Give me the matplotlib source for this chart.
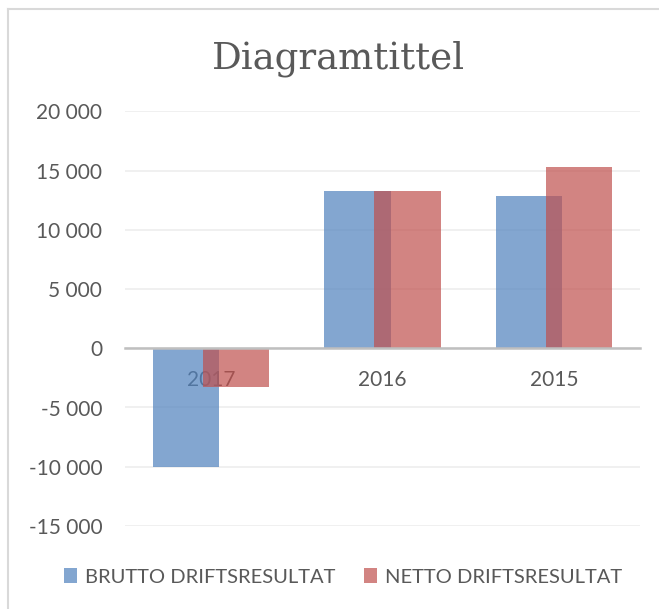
import matplotlib.pyplot as plt
import numpy as np
from matplotlib.lines import Line2D
from matplotlib.patches import Patch
from matplotlib.ticker import FuncFormatter

categories = ["2017", "2016", "2015"]
brutto = [-10000, 13300, 12860]
netto = [-3250, 13260, 15290]
series_names = ["BRUTTO DRIFTSRESULTAT", "NETTO DRIFTSRESULTAT"]

blue = "#4F81BD"
red = "#C0504D"
text_grey = "#595959"

plt.rcParams['font.family'] = ['Lato', 'DejaVu Sans']

W, H = 659, 609
fig = plt.figure(figsize=(W / 100, H / 100), dpi=100)

# plot area placed in pixel terms
left, right = 125.25, 639.75
top, bottom = 111.5, 525.9
ax = fig.add_axes([left / W, 1 - bottom / H, (right - left) / W, (bottom - top) / H])

x = np.arange(len(categories))
width = 0.39
offset = 0.146
ax.bar(x - offset, brutto, width, color=blue, alpha=0.7, linewidth=0, zorder=1)
ax.bar(x + offset, netto, width, color=red, alpha=0.7, linewidth=0, zorder=1.1)

ax.set_xlim(-0.5, len(categories) - 0.5)
ax.set_ylim(-15000, 20000)
ax.set_yticks(np.arange(-15000, 20001, 5000))
ax.yaxis.set_major_formatter(FuncFormatter(lambda v, p: f"{int(v):,}".replace(",", " ")))
ax.set_xticks(x)
ax.set_xticklabels(categories)

ax.grid(axis="y", color="#efefef", linewidth=1.3)
ax.set_axisbelow(True)
for s in ["top", "right", "left"]:
    ax.spines[s].set_visible(False)
ax.spines["bottom"].set_position(("data", 0))
ax.spines["bottom"].set_color("#bfbfbf")
ax.spines["bottom"].set_linewidth(1.8)
ax.spines["bottom"].set_zorder(3)
ax.tick_params(axis="both", length=0, labelsize=15, labelcolor=text_grey)
ax.tick_params(axis="y", pad=16.5)
ax.tick_params(axis="x", pad=15.5)

fig.text(338 / W, 1 - 68.3 / H, "Diagramtittel", ha="center", va="baseline",
         fontsize=26.7, color=text_grey, family="DejaVu Serif")

handles = [Patch(facecolor=blue, alpha=0.7), Patch(facecolor=red, alpha=0.7)]
fig.legend(handles, series_names, loc="center", ncol=2,
           bbox_to_anchor=(343 / W, 1 - 577 / H), frameon=False,
           fontsize=14.5, labelcolor=text_grey, handlelength=0.65, handleheight=0.7,
           handletextpad=0.4, columnspacing=1.4)

# chart frame (left and top edge visible)
fig.add_artist(Line2D([8 / W, 8 / W], [0, 1 - 9 / H], color="#d9d9d9", linewidth=1.5))
fig.add_artist(Line2D([8 / W, 1], [1 - 9 / H, 1 - 9 / H], color="#d9d9d9", linewidth=1.5))

fig.savefig("out.png", dpi=100)
